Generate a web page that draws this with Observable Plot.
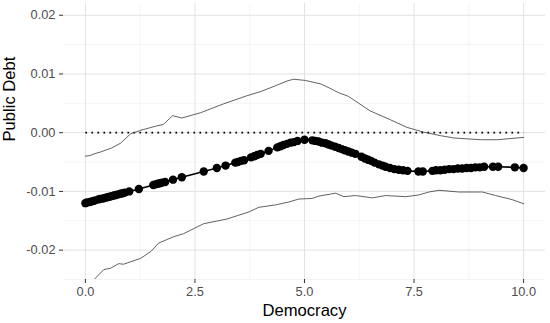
<!DOCTYPE html>
<html>
<head>
<meta charset="utf-8">
<script src="https://cdn.jsdelivr.net/npm/d3@7"></script>
<script src="https://cdn.jsdelivr.net/npm/@observablehq/plot@0.6"></script>
<style>
  html, body { margin: 0; padding: 0; background: #fff; }
  #chart { width: 550px; height: 323px; }
</style>
</head>
<body>
<div id="chart"></div>
<script>
// Estimated marginal effect points (Democracy -> effect on Public Debt)
const democracy = [0, 0.03, 0.1, 0.15, 0.2, 0.28, 0.33, 0.4, 0.45, 0.5, 0.55, 0.6, 0.65, 0.7, 0.75, 0.8, 0.85, 0.9,
  1.0, 1.22, 1.55, 1.6, 1.65, 1.7, 1.75, 1.82, 2.0, 2.2, 2.7, 3.0, 3.2, 3.42, 3.48, 3.55, 3.62, 3.78, 3.85, 3.92, 4.0,
  4.18, 4.38, 4.45, 4.52, 4.6, 4.68, 4.76, 4.84, 5.0, 5.18, 5.25, 5.32, 5.4, 5.48, 5.55, 5.62, 5.7, 5.78, 5.85, 5.92,
  6.0, 6.08, 6.16, 6.3, 6.38, 6.45, 6.52, 6.6, 6.7, 6.78, 6.85, 6.95, 7.05, 7.15, 7.25, 7.35, 7.6, 7.7, 7.92, 8.0,
  8.1, 8.2, 8.3, 8.4, 8.5, 8.6, 8.7, 8.8, 8.9, 9.0, 9.1, 9.3, 9.42, 9.8, 10];
const effect = [-0.0120, -0.0119, -0.0118, -0.0117, -0.0116, -0.0114, -0.0113, -0.0112, -0.0111, -0.0110, -0.0109,
  -0.0108, -0.0107, -0.0106, -0.0105, -0.0104, -0.0103, -0.0102,
  -0.0100, -0.0096, -0.0089, -0.0088, -0.0087, -0.0086, -0.0085, -0.0084, -0.0080, -0.0076, -0.0066, -0.0060, -0.0056,
  -0.0051, -0.0050, -0.0048, -0.0047, -0.0042, -0.0040, -0.0038, -0.0036,
  -0.0031, -0.0025, -0.0023, -0.0021, -0.0019, -0.0017, -0.0016, -0.0014, -0.0012, -0.0013, -0.0014, -0.0015, -0.0017,
  -0.0018, -0.0020, -0.0022, -0.0024, -0.0026, -0.0028, -0.0030,
  -0.0032, -0.0034, -0.0036, -0.0041, -0.0044, -0.0046, -0.0048, -0.0051, -0.0054, -0.0056, -0.0058, -0.0060, -0.0062,
  -0.0063, -0.0064, -0.0065, -0.0066, -0.0066, -0.0065, -0.0064,
  -0.0064, -0.0063, -0.0062, -0.0062, -0.0061, -0.0061, -0.0060, -0.0060, -0.0059, -0.0059, -0.0058, -0.0058, -0.0058,
  -0.0059, -0.0060];

// Upper confidence bound
const upperX = [0, 0.1, 0.2, 0.34, 0.6, 0.8, 1.03, 1.26, 1.6, 1.78, 1.99, 2.2, 2.63, 3.15, 3.69, 4.0, 4.34, 4.6, 4.75,
  5.02, 5.37, 5.6, 5.78, 6.0, 6.5, 6.96, 7.34, 7.72, 8.1, 8.41, 9.02, 9.4, 10];
const upperY = [-0.0040, -0.0039, -0.0036, -0.0033, -0.0026, -0.0018, -0.0002, 0.0004, 0.0011, 0.0014, 0.0029, 0.0025,
  0.0034, 0.0049, 0.0063, 0.0070, 0.0080, 0.0088, 0.0091,
  0.0089, 0.0083, 0.0075, 0.0068, 0.0062, 0.0037, 0.0022, 0.0009, 0.0001, -0.0005, -0.0009, -0.0012, -0.0012, -0.0008];

// Lower confidence bound
const lowerX = [0, 0.2, 0.42, 0.57, 0.76, 0.87, 1.26, 1.5, 1.67, 2.02, 2.24, 2.7, 3.23, 3.73, 3.96, 4.34, 4.64, 4.87,
  5.17, 5.33, 5.71, 5.9, 6.16, 6.55, 6.85, 7.31, 7.61, 7.84, 8.07, 8.52, 9.06, 9.36, 9.74, 10];
const lowerY = [-0.0265, -0.0250, -0.0233, -0.0231, -0.0223, -0.0224, -0.0214, -0.0202, -0.0188, -0.0177, -0.0172,
  -0.0155, -0.0147, -0.0135, -0.0127, -0.0123, -0.0118, -0.0113,
  -0.0112, -0.0108, -0.0103, -0.0109, -0.0107, -0.0111, -0.0107, -0.0109, -0.0106, -0.0101, -0.0098, -0.0101, -0.0101,
  -0.0107, -0.0114, -0.0121];

const xTicks = [0, 2.5, 5, 7.5, 10];
const xMinor = [1.25, 3.75, 6.25, 8.75];
const yTicks = [-0.02, -0.01, 0, 0.01, 0.02];
const yMinor = [-0.025, -0.015, -0.005, 0.005, 0.015];
const zeroLineSpan = [0, 10];
const xTitle = "Democracy";
const yTitle = "Public Debt";

const points = democracy.map((d, i) => ({x: d, y: effect[i]}));
const upper = upperX.map((d, i) => ({x: d, y: upperY[i]}));
const lower = lowerX.map((d, i) => ({x: d, y: lowerY[i]}));

const font = "'Liberation Sans', Arial, Helvetica, sans-serif";

const chart = Plot.plot({
  width: 550,
  height: 323,
  marginLeft: 63,
  marginRight: 5,
  marginTop: 3,
  marginBottom: 44,
  style: {fontFamily: font, background: "#fff", overflow: "visible"},
  x: {domain: [-0.5, 10.5]},
  y: {domain: [-0.025, 0.022]},
  marks: [
    Plot.gridY(yMinor, {stroke: "#ececec", strokeOpacity: 1, strokeWidth: 0.6}),
    Plot.gridX(xMinor, {stroke: "#ececec", strokeOpacity: 1, strokeWidth: 0.6}),
    Plot.gridY(yTicks, {stroke: "#e2e2e2", strokeOpacity: 1, strokeWidth: 1}),
    Plot.gridX(xTicks, {stroke: "#e2e2e2", strokeOpacity: 1, strokeWidth: 1}),
    Plot.axisY({ticks: yTicks, tickFormat: d => d.toFixed(2), tickSize: 4, tickPadding: 4,
      fontSize: 12.8, fill: "#4d4d4d", stroke: "#333", label: null}),
    Plot.axisX({ticks: xTicks, tickFormat: d => d.toFixed(1), tickSize: 4, tickPadding: 3,
      fontSize: 12.8, fill: "#4d4d4d", stroke: "#333", label: null}),
    Plot.line(zeroLineSpan, {x: d => d, y: () => 0, stroke: "#000", strokeWidth: 1.7,
      strokeDasharray: "1.7,4.3", strokeLinecap: "butt"}),
    Plot.line(upper, {x: "x", y: "y", stroke: "#3a3a3a", strokeWidth: 0.8, clip: true}),
    Plot.line(lower, {x: "x", y: "y", stroke: "#3a3a3a", strokeWidth: 0.8, clip: true}),
    Plot.line(points, {x: "x", y: "y", stroke: "#000", strokeWidth: 1.6}),
    Plot.dot(points, {x: "x", y: "y", r: 4.2, fill: "#000", stroke: "none"}),
    Plot.text([xTitle], {frameAnchor: "bottom", dy: 25, lineAnchor: "top", fontSize: 16.6, fill: "#000"}),
    Plot.text([yTitle], {frameAnchor: "left", dx: -60, rotate: -90, lineAnchor: "top", fontSize: 16.6, fill: "#000"})
  ]
});
document.getElementById("chart").appendChild(chart);
</script>
</body>
</html>
